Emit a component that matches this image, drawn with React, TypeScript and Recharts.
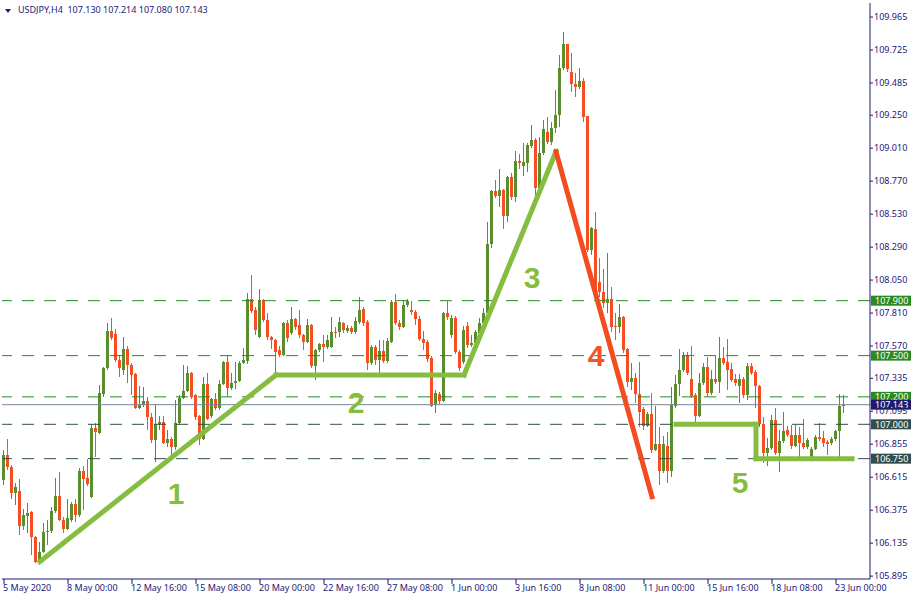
import React from 'react';
import { ComposedChart, Bar, XAxis, YAxis, ReferenceLine, ReferenceDot } from 'recharts';

const opens = [
  106.595, 106.777, 106.689, 106.500, 106.515, 106.260, 106.333, 106.362, 106.180, 105.998,
  106.070, 106.216, 106.223, 106.369, 106.478, 106.303, 106.238, 106.303, 106.420, 106.340,
  106.660, 106.609, 106.471, 106.973, 106.937, 107.221, 107.410, 107.679, 107.657, 107.468,
  107.395, 107.548, 107.432, 107.366, 107.119, 107.141, 107.170, 107.053, 106.886, 107.002,
  107.017, 106.864, 106.893, 106.835, 107.010, 107.192, 107.243, 107.374, 107.213, 107.061,
  106.893, 107.293, 107.061, 107.185, 107.119, 107.293, 107.454, 107.264, 107.301, 107.315,
  107.446, 107.461, 107.912, 107.832, 107.636, 107.905, 107.759, 107.636, 107.614, 107.541,
  107.505, 107.738, 107.665, 107.767, 107.723, 107.650, 107.599, 107.723, 107.425, 107.541,
  107.585, 107.563, 107.563, 107.672, 107.672, 107.738, 107.679, 107.701, 107.672, 107.745,
  107.839, 107.745, 107.446, 107.563, 107.468, 107.534, 107.461, 107.599, 107.890, 107.738,
  107.708, 107.869, 107.832, 107.818, 107.767, 107.621, 107.599, 107.483, 107.141, 107.221,
  107.170, 107.810, 107.650, 107.774, 107.526, 107.454, 107.716, 107.577, 107.592, 107.665,
  107.738, 107.810, 108.313, 108.699, 108.662, 108.706, 108.517, 108.800, 108.655, 108.917,
  108.881, 108.902, 109.026, 109.070, 108.720, 108.975, 109.128, 109.055, 109.157, 109.252,
  109.594, 109.769, 109.565, 109.477, 109.456, 109.499, 109.245, 108.269, 108.422, 108.036,
  107.963, 107.883, 107.912, 107.716, 107.708, 107.781, 107.548, 107.308, 107.337, 107.221,
  107.111, 106.988, 107.075, 106.813, 106.857, 106.660, 106.842, 106.660, 107.133, 107.293,
  107.395, 107.505, 107.330, 107.213, 107.061, 107.301, 107.417, 107.228, 107.330, 107.308,
  107.483, 107.454, 107.403, 107.330, 107.279, 107.330, 107.213, 107.425, 107.381, 107.279,
  107.002, 106.791, 106.828, 107.031, 106.791, 106.879, 106.959, 106.922, 106.842, 106.922,
  106.864, 106.835, 106.762, 106.820, 106.908, 106.900, 106.871, 106.864, 106.893, 106.951,
  107.130,
];

const highs = [
  106.813, 106.893, 106.704, 106.573, 106.602, 106.383, 106.427, 106.369, 106.187, 106.143,
  106.282, 106.303, 106.398, 106.609, 106.653, 106.325, 106.456, 106.434, 106.456, 106.682,
  106.697, 106.747, 107.002, 107.010, 107.286, 107.417, 107.738, 107.774, 107.694, 107.505,
  107.636, 107.570, 107.446, 107.370, 107.279, 107.272, 107.199, 107.082, 107.148, 107.061,
  107.061, 106.959, 106.908, 107.177, 107.213, 107.432, 107.425, 107.380, 107.218, 107.068,
  107.344, 107.374, 107.195, 107.228, 107.323, 107.460, 107.505, 107.374, 107.454, 107.461,
  107.556, 107.956, 108.087, 107.854, 107.985, 107.910, 107.810, 107.640, 107.621, 107.570,
  107.745, 107.759, 107.854, 107.772, 107.832, 107.655, 107.767, 107.728, 107.545, 107.592,
  107.650, 107.650, 107.781, 107.708, 107.781, 107.745, 107.723, 107.716, 107.781, 107.927,
  107.854, 107.759, 107.577, 107.577, 107.614, 107.614, 107.628, 107.905, 107.949, 107.759,
  107.905, 107.912, 107.898, 107.832, 107.789, 107.679, 107.614, 107.497, 107.250, 107.235,
  107.818, 107.898, 107.796, 107.789, 107.541, 107.716, 107.745, 107.650, 107.687, 107.774,
  107.847, 108.473, 108.706, 108.779, 108.859, 108.710, 108.805, 108.830, 108.990, 108.968,
  109.048, 109.048, 109.179, 109.084, 109.092, 109.215, 109.237, 109.201, 109.434, 109.689,
  109.856, 109.772, 109.703, 109.558, 109.594, 109.521, 109.248, 108.436, 108.546, 108.211,
  108.131, 108.247, 108.000, 107.810, 107.876, 107.785, 107.552, 107.446, 107.374, 107.454,
  107.126, 107.090, 107.228, 107.133, 106.980, 106.915, 106.944, 107.272, 107.359, 107.548,
  107.526, 107.526, 107.570, 107.228, 107.374, 107.446, 107.490, 107.395, 107.497, 107.636,
  107.563, 107.621, 107.446, 107.366, 107.366, 107.344, 107.446, 107.446, 107.395, 107.283,
  107.053, 106.900, 107.068, 107.119, 106.959, 107.090, 106.988, 106.995, 106.995, 106.980,
  107.039, 106.900, 106.835, 106.922, 107.010, 106.951, 106.886, 106.908, 106.959, 107.221,
  107.214,
];

const lows = [
  106.558, 106.667, 106.456, 106.413, 106.194, 106.231, 106.209, 106.049, 105.990, 105.976,
  106.063, 106.121, 106.209, 106.354, 106.296, 106.209, 106.231, 106.289, 106.289, 106.325,
  106.376, 106.551, 106.465, 106.762, 106.929, 107.199, 107.395, 107.614, 107.454, 107.344,
  107.359, 107.301, 107.213, 107.111, 107.115, 107.126, 106.959, 106.864, 106.726, 106.959,
  106.857, 106.835, 106.777, 106.813, 106.995, 107.185, 107.235, 107.184, 107.031, 106.849,
  106.886, 107.031, 107.046, 107.104, 107.104, 107.286, 107.199, 107.250, 107.257, 107.308,
  107.439, 107.439, 107.810, 107.650, 107.628, 107.745, 107.614, 107.548, 107.374, 107.490,
  107.497, 107.599, 107.650, 107.687, 107.628, 107.541, 107.592, 107.410, 107.323, 107.526,
  107.454, 107.548, 107.556, 107.628, 107.636, 107.665, 107.665, 107.657, 107.657, 107.730,
  107.716, 107.395, 107.432, 107.432, 107.374, 107.446, 107.446, 107.592, 107.723, 107.687,
  107.701, 107.854, 107.796, 107.723, 107.607, 107.541, 107.454, 107.126, 107.082, 107.148,
  107.162, 107.759, 107.628, 107.512, 107.388, 107.439, 107.556, 107.563, 107.577, 107.657,
  107.730, 107.796, 108.284, 108.648, 108.582, 108.422, 108.473, 108.633, 108.618, 108.859,
  108.808, 108.837, 109.012, 108.618, 108.706, 108.961, 109.041, 109.033, 109.121, 109.164,
  109.579, 109.565, 109.419, 109.383, 109.441, 109.201, 108.254, 108.233, 107.963, 107.927,
  107.847, 107.810, 107.672, 107.614, 107.665, 107.519, 107.272, 107.250, 107.155, 106.980,
  106.959, 106.980, 106.791, 106.806, 106.558, 106.646, 106.573, 106.616, 107.119, 107.206,
  107.381, 107.359, 107.192, 107.017, 107.053, 107.286, 107.199, 107.213, 107.293, 107.228,
  107.432, 107.250, 107.308, 107.279, 107.155, 107.192, 107.177, 107.359, 107.119, 106.980,
  106.718, 106.697, 106.813, 106.777, 106.653, 106.864, 106.908, 106.820, 106.835, 106.762,
  106.820, 106.820, 106.755, 106.813, 106.879, 106.835, 106.777, 106.849, 106.879, 106.762,
  107.080,
];

const closes = [
  106.777, 106.689, 106.500, 106.544, 106.260, 106.340, 106.354, 106.180, 105.998, 106.070,
  106.216, 106.223, 106.369, 106.478, 106.303, 106.238, 106.318, 106.420, 106.340, 106.660,
  106.602, 106.565, 106.973, 106.944, 107.228, 107.410, 107.679, 107.628, 107.468, 107.410,
  107.548, 107.432, 107.359, 107.119, 107.141, 107.170, 107.053, 106.886, 107.002, 107.017,
  106.864, 106.893, 106.835, 107.010, 107.192, 107.243, 107.374, 107.199, 107.053, 106.893,
  107.293, 107.039, 107.185, 107.119, 107.293, 107.454, 107.264, 107.301, 107.315, 107.446,
  107.468, 107.912, 107.825, 107.687, 107.905, 107.759, 107.636, 107.614, 107.526, 107.505,
  107.738, 107.628, 107.767, 107.708, 107.650, 107.599, 107.723, 107.425, 107.541, 107.585,
  107.563, 107.614, 107.672, 107.665, 107.745, 107.687, 107.701, 107.672, 107.752, 107.832,
  107.738, 107.446, 107.563, 107.468, 107.534, 107.461, 107.607, 107.890, 107.738, 107.708,
  107.869, 107.898, 107.818, 107.767, 107.621, 107.592, 107.475, 107.133, 107.228, 107.170,
  107.810, 107.781, 107.774, 107.526, 107.410, 107.687, 107.577, 107.592, 107.672, 107.738,
  107.810, 108.313, 108.699, 108.662, 108.706, 108.517, 108.800, 108.655, 108.917, 108.902,
  108.910, 109.033, 109.070, 108.720, 108.975, 109.150, 109.055, 109.157, 109.252, 109.594,
  109.769, 109.587, 109.477, 109.456, 109.499, 109.237, 108.269, 108.429, 107.985, 107.963,
  107.883, 107.912, 107.708, 107.708, 107.781, 107.541, 107.308, 107.337, 107.221, 107.090,
  106.988, 107.075, 106.813, 106.857, 106.660, 106.857, 106.660, 107.141, 107.293, 107.395,
  107.505, 107.374, 107.206, 107.061, 107.301, 107.417, 107.228, 107.330, 107.308, 107.483,
  107.446, 107.395, 107.323, 107.301, 107.330, 107.213, 107.425, 107.374, 107.279, 107.002,
  106.791, 106.828, 107.031, 106.791, 106.879, 106.951, 106.922, 106.842, 106.922, 106.864,
  106.835, 106.886, 106.820, 106.908, 106.893, 106.864, 106.857, 106.893, 106.951, 107.133,
  107.143,
];

const xTickIndex = [0, 16, 32, 48, 64, 80, 96, 112, 128, 144, 160, 176, 192, 208];
const xTickLabels = [
  '5 May 2020', '8 May 00:00', '12 May 16:00', '15 May 08:00', '20 May 00:00', '22 May 16:00',
  '27 May 08:00', '1 Jun 00:00', '3 Jun 16:00', '8 Jun 08:00', '11 Jun 00:00', '15 Jun 16:00',
  '18 Jun 08:00', '23 Jun 00:00',
];
const yTicks = [
  109.965, 109.725, 109.485, 109.25, 109.01, 108.77, 108.53, 108.29, 108.05, 107.81,
  107.57, 107.335, 107.095, 106.855, 106.615, 106.375, 106.135, 105.895,
];
const greenLevels = [107.9, 107.5, 107.2];
const darkLevels = [107.0, 106.75];
const lastPrice = 107.143;
const titleText = 'USDJPY,H4  107.130 107.214 107.080 107.143';

// annotation waypoints: [bar index, price]
const greenPath = [[9, 106.001], [68, 107.359], [115, 107.359], [138, 108.985]];
const redPath = [[138, 108.985], [162, 106.473]];
const boxPath = [[168, 107.0], [188, 107.0], [188, 106.75], [212, 106.75]];
const waveLabels = [
  { text: '1', i: 43, p: 106.5, red: false },
  { text: '2', i: 88, p: 107.159, red: false },
  { text: '3', i: 132, p: 108.073, red: false },
  { text: '4', i: 148, p: 107.505, red: true },
  { text: '5', i: 184, p: 106.583, red: false },
];

const SLOTS = 217;
const BULL = '#5a8e2c';
const BEAR = '#f44e22';
const AXIS = '#1a1a6e';
const TEXT = '#20207a';
const LGREEN = '#85bd40';
const LRED = '#f44b20';
const FONT = '"Noto Sans", "Liberation Sans", sans-serif';
const DOMAIN: [number, number] = [105.874, 110.067];

const data = Array.from({ length: SLOTS }, (_, k) =>
  k < opens.length
    ? { i: k, o: opens[k], h: highs[k], l: lows[k], c: closes[k], hl: [lows[k], highs[k]] }
    : { i: k, hl: null }
);

const Candle = (props: any) => {
  const { x, y, height, payload } = props;
  if (!payload || payload.o == null) return null;
  const { o, h, l, c } = payload;
  const top = Math.min(y, y + height);
  const bot = Math.max(y, y + height);
  const k = h > l ? (bot - top) / (h - l) : 0;
  const py = (p: number) => top + (h - p) * k;
  const color = c >= o ? BULL : BEAR;
  const bx = Math.round(x);
  const bTop = Math.round(py(Math.max(o, c)));
  const bBot = Math.round(py(Math.min(o, c)));
  const wTop = Math.round(top);
  const wBot = Math.round(bot);
  return (
    <g>
      <rect x={bx + 1} y={wTop} width={1} height={Math.max(1, wBot - wTop)} fill={color} />
      <rect x={bx} y={bTop} width={3} height={Math.max(1, bBot - bTop)} fill={color} />
    </g>
  );
};

const XTick = (props: any) => {
  const { x, y, payload } = props;
  const idx = xTickIndex.indexOf(payload.value);
  return (
    <text x={x - 1} y={y} dy={5} textAnchor="start" fontSize={9} fontFamily={FONT} fill={TEXT}>
      {idx >= 0 ? xTickLabels[idx] : ''}
    </text>
  );
};

const YTick = (props: any) => {
  const { x, y, payload } = props;
  return (
    <text x={x} y={y} dy={3} textAnchor="start" fontSize={9} fontFamily={FONT} fill={TEXT}>
      {Number(payload.value).toFixed(3)}
    </text>
  );
};

const boxLabel = (value: number, bg: string) => (props: any) => {
  const vb = props.viewBox || {};
  const x = (vb.x || 0) + (vb.width || 0) + 1;
  const y = vb.y || 0;
  return (
    <g>
      <rect x={x} y={y - 5} width={40} height={10} fill={bg} />
      <text x={x + 4} y={y + 3.5} fontSize={9} fontFamily={FONT} fill="#ffffff">
        {value.toFixed(3)}
      </text>
    </g>
  );
};

const segs = (path: number[][]) =>
  path.slice(0, -1).map((pt, k) => [
    { x: pt[0], y: pt[1] },
    { x: path[k + 1][0], y: path[k + 1][1] },
  ]);

export default function App() {
  return (
    <div style={{ position: 'absolute', left: 0, top: 0, width: 915, height: 600, background: '#ffffff' }}>
      <ComposedChart
        width={915}
        height={600}
        data={data}
        margin={{ top: 3, right: 0, bottom: 1, left: 2 }}
        barCategoryGap={0}
        barGap={0}
      >
        <XAxis
          xAxisId="x"
          dataKey="i"
          type="category"
          ticks={xTickIndex}
          interval={0}
          tick={<XTick />}
          tickSize={5}
          tickLine={{ stroke: AXIS }}
          axisLine={{ stroke: AXIS }}
          height={20}
        />
        <XAxis
          xAxisId="t"
          dataKey="i"
          type="category"
          orientation="top"
          tick={false}
          tickLine={false}
          axisLine={{ stroke: AXIS }}
          height={0}
        />
        <YAxis
          yAxisId="p"
          orientation="right"
          type="number"
          domain={DOMAIN}
          allowDataOverflow
          ticks={yTicks}
          interval={0}
          tick={<YTick />}
          tickSize={3}
          tickMargin={1}
          tickLine={{ stroke: AXIS }}
          axisLine={{ stroke: AXIS }}
          width={45}
        />
        <YAxis
          yAxisId="f"
          orientation="left"
          type="number"
          domain={DOMAIN}
          allowDataOverflow
          tick={false}
          tickLine={false}
          axisLine={{ stroke: AXIS }}
          width={0}
        />
        {greenLevels.map((v) => (
          <ReferenceLine
            key={'g' + v}
            xAxisId="x"
            yAxisId="p"
            y={v}
            stroke="#228b22"
            strokeDasharray="12 10"
            label={boxLabel(v, '#2a8a22')}
          />
        ))}
        {darkLevels.map((v) => (
          <ReferenceLine
            key={'d' + v}
            xAxisId="x"
            yAxisId="p"
            y={v}
            stroke="#2f4f4f"
            strokeDasharray="12 10"
            label={boxLabel(v, '#2f4f4f')}
          />
        ))}
        <ReferenceLine
          xAxisId="x"
          yAxisId="p"
          y={lastPrice}
          stroke="#778899"
          label={boxLabel(lastPrice, '#1c1c6e')}
        />
        <Bar
          xAxisId="x"
          yAxisId="p"
          dataKey="hl"
          shape={Candle}
          barSize={4}
          isAnimationActive={false}
        />
        {segs(greenPath).map((s, k) => (
          <ReferenceLine key={'gp' + k} xAxisId="x" yAxisId="p" segment={s} stroke={LGREEN} strokeWidth={5} strokeLinecap="square" />
        ))}
        {segs(redPath).map((s, k) => (
          <ReferenceLine key={'rp' + k} xAxisId="x" yAxisId="p" segment={s} stroke={LRED} strokeWidth={5} strokeLinecap="square" />
        ))}
        {segs(boxPath).map((s, k) => (
          <ReferenceLine key={'bp' + k} xAxisId="x" yAxisId="p" segment={s} stroke={LGREEN} strokeWidth={5} strokeLinecap="square" />
        ))}
        {waveLabels.map((w) => (
          <ReferenceDot
            key={'w' + w.text}
            xAxisId="x"
            yAxisId="p"
            x={w.i}
            y={w.p}
            r={1}
            shape={(p: any) => (
              <text
                x={p.cx}
                y={p.cy}
                dy={11}
                textAnchor="middle"
                fontSize={30}
                fontWeight="bold"
                fontFamily='"Liberation Sans", Arial, sans-serif'
                fill={w.red ? '#f5522a' : LGREEN}
              >
                {w.text}
              </text>
            )}
          />
        ))}
      </ComposedChart>
      <div
        style={{
          position: 'absolute',
          left: 5,
          top: 9,
          width: 0,
          height: 0,
          borderLeft: '3.5px solid transparent',
          borderRight: '3.5px solid transparent',
          borderTop: '4px solid ' + TEXT,
        }}
      />
      <div
        style={{
          position: 'absolute',
          left: 18,
          top: 4,
          fontSize: 9,
          lineHeight: '12px',
          fontFamily: FONT,
          color: TEXT,
          whiteSpace: 'pre',
        }}
      >
        {titleText}
      </div>
    </div>
  );
}
